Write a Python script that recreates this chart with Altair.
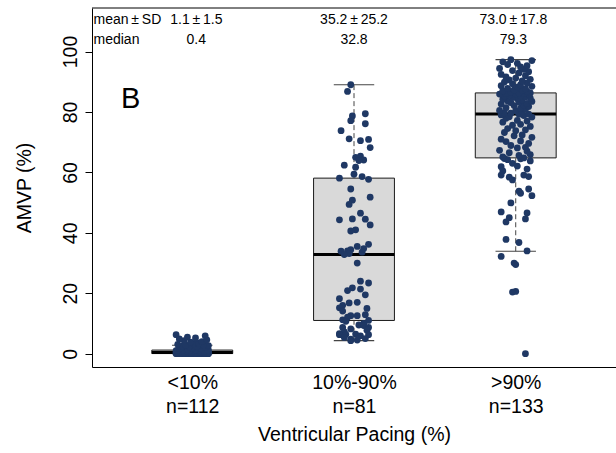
import altair as alt
import pandas as pd

# ---------------- data ----------------
categories = ["<10%", "10%-90%", ">90%"]
counts = [112, 81, 133]
positions = [1, 2, 3]
mean_sd_text = ["1.1\u2009\u00b1\u20091.5", "35.2\u2009\u00b1\u200925.2", "73.0\u2009\u00b1\u200917.8"]
median_text = ["0.4", "32.8", "79.3"]

box_q1 = [0.05, 11.0, 64.8]
box_median = [0.4, 32.8, 79.3]
box_q3 = [1.2, 58.1, 86.3]
whisker_low = [0.0, 4.3, 33.9]
whisker_high = [2.8, 89.0, 97.3]

low_values = [
    0.0, 0.0, 0.0, 0.0, 0.0, 0.0, 0.0, 0.0, 0.0, 0.0, 0.0,
    0.0, 0.0, 0.0, 0.0, 0.0, 0.0, 0.0, 0.0, 0.0, 0.0, 0.0,
    0.1, 0.1, 0.1, 0.1, 0.1, 0.1, 0.1,
    0.2, 0.2, 0.2, 0.2, 0.2, 0.2, 0.2, 0.2,
    0.3, 0.3, 0.3, 0.3, 0.3, 0.3, 0.3, 0.3, 0.3,
    0.4, 0.4, 0.4, 0.4, 0.4, 0.4, 0.4, 0.4, 0.4, 0.4,
    0.5, 0.5, 0.5, 0.6, 0.6, 0.6, 0.6, 0.7, 0.7, 0.7, 0.8, 0.8, 0.8, 0.9,
    0.9, 0.9, 1.0, 1.0, 1.0, 1.0, 1.1, 1.1, 1.1, 1.2, 1.2, 1.2, 1.2, 1.2,
    1.3, 1.4, 1.4, 1.5, 1.6, 1.7, 1.8, 1.9, 2.0, 2.1, 2.2, 2.4, 2.5, 2.7,
    2.8, 3.0, 3.1, 3.3, 3.5, 3.8, 4.0, 4.3, 4.6, 4.9, 5.2, 5.5, 5.9, 6.3,
]
low_jitter = [
    -0.08, 0.03, 0.09, -0.02, 0.05, -0.06, 0.01, 0.07, -0.09, 0.04, -0.04, 0.10, -0.01, 0.06,
    -0.07, 0.02, 0.08, -0.05, 0.00, -0.10, 0.05, 0.03, -0.03, 0.09, -0.06, 0.01, 0.07, -0.08,
    0.04, -0.02, 0.06, -0.09, 0.10, -0.04, 0.02, -0.07, 0.08, 0.00, -0.05, 0.03, -0.01, 0.05,
    -0.06, 0.09, -0.03, 0.07, -0.10, 0.01, 0.04, -0.08, 0.06, -0.02, 0.08, -0.04, 0.02, -0.07,
    0.10, -0.05, 0.03, -0.09, 0.05, -0.01, 0.07, -0.06, 0.00, 0.09, -0.03, 0.04, -0.08, 0.06,
    -0.02, 0.08, -0.07, 0.01, 0.05, -0.10, 0.03, -0.04, 0.07, -0.06, 0.10, -0.01, 0.04, -0.09,
    0.02, -0.05, 0.09, -0.03, 0.06, -0.08, 0.00, 0.05, -0.07, 0.08, -0.02, 0.03, -0.06, 0.10,
    -0.04, 0.07, -0.09, 0.01, 0.04, -0.01, 0.06, -0.05, 0.09, -0.08, 0.02, -0.03, 0.08, -0.10,
]

mid_values = [
    89.0, 86.8, 79.4, 78.7, 77.1, 76.1, 73.8, 71.1, 70.9, 70.5,
    68.2, 65.4, 65.0, 64.1, 63.9, 62.4, 61.7, 59.4, 58.6, 58.1,
    57.7, 54.5, 51.8, 50.8, 49.4, 46.5, 44.6, 44.5, 44.3, 42.6,
    41.0, 40.6, 36.2, 35.5, 34.8, 34.4, 34.0, 33.9, 33.6, 33.1,
    32.8, 30.0, 24.0, 23.4, 21.8, 21.4, 20.9, 19.5, 18.2, 17.0,
    16.8, 16.0, 15.2, 15.0, 14.1, 12.9, 12.6, 12.6, 12.1, 11.2,
    11.0, 10.7, 10.0, 9.5, 9.3, 8.7, 8.7, 8.2, 7.8, 7.2,
    6.6, 6.5, 6.4, 6.3, 6.3, 5.9, 5.4, 5.0, 4.8, 4.5,
    4.3,
]
mid_jitter = [
    -0.02, -0.04, 0.07, -0.01, -0.02, 0.07, -0.08, -0.03, 0.09, 0.04,
    0.10, 0.04, 0.01, 0.06, 0.03, -0.06, 0.01, 0.00, 0.05, -0.09,
    0.09, -0.02, 0.10, -0.01, -0.03, 0.04, -0.01, 0.07, -0.09, 0.10,
    0.01, -0.02, 0.09, 0.02, 0.06, -0.02, -0.04, -0.08, 0.05, -0.03,
    -0.06, 0.02, 0.04, 0.09, -0.01, 0.04, -0.04, 0.07, -0.09, 0.02,
    -0.03, -0.07, -0.09, 0.08, -0.07, 0.07, -0.02, 0.02, -0.04, -0.07,
    0.09, -0.05, 0.06, 0.03, 0.06, 0.09, -0.07, -0.02, 0.08, -0.06,
    -0.09, 0.01, -0.05, 0.09, -0.09, 0.04, -0.06, 0.07, -0.02, 0.02,
    -0.02,
]

high_values = [
    64.6, 64.5, 64.2, 63.8, 63.0, 62.1, 61.9, 61.1, 60.5, 59.1, 59.1,
    58.6, 58.4, 57.5, 54.5, 53.8, 53.1, 52.3, 49.9, 46.9, 46.6, 45.0,
    44.6, 43.6, 37.8, 36.8, 34.0, 32.2, 30.0, 29.5, 20.6, 20.4, 0.0,
    64.8, 65.1, 65.6, 65.9, 66.5, 67.0, 67.3, 68.1, 68.3, 68.9, 69.6,
    70.2, 70.4, 71.0, 71.6, 72.1, 72.4, 73.2, 73.8, 74.1, 74.5, 75.2,
    75.6, 75.9, 76.6, 77.0, 77.2, 77.9, 78.3, 78.4, 78.8, 79.0, 79.2,
    79.3,
    79.6, 79.7, 80.1, 80.4, 80.5, 81.0, 81.3, 81.4, 81.8, 82.1, 82.3,
    82.6, 82.8, 83.1, 83.3, 83.5, 83.6, 84.0, 84.2, 84.4, 84.6, 84.8,
    85.0, 85.2, 85.4, 85.5, 85.8, 85.9, 86.0, 86.1, 86.2, 86.3, 86.3,
    86.6, 86.8, 87.0, 87.2, 87.3, 87.7, 87.8, 88.2, 88.5, 88.7, 89.0,
    89.3, 89.6, 89.9, 90.3, 90.6, 90.8, 91.2, 91.6, 92.0, 92.4, 92.9,
    93.3, 93.7, 94.1, 94.4, 94.9, 95.3, 95.7, 96.1, 96.6, 97.0, 97.3,
]
high_jitter = [
    -0.07, 0.03, -0.05, 0.09, -0.02, 0.01, -0.09, 0.07, -0.08, -0.09, 0.05,
    0.08, -0.04, -0.02, 0.08, 0.02, 0.03, 0.10, -0.03, -0.09, 0.07, -0.04,
    0.06, -0.06, -0.06, 0.02, 0.07, -0.09, -0.01, 0.00, 0.00, -0.02, 0.06,
    0.05, -0.08, 0.02, 0.09, -0.04, 0.07, -0.10, 0.01, 0.06, -0.03, 0.08,
    -0.06, 0.03, -0.09, 0.10, -0.01, 0.04, -0.07, 0.00, 0.06, -0.05, 0.09,
    -0.02, 0.03, -0.08, 0.07, 0.01, -0.06, 0.10, -0.04, 0.05, -0.09, 0.02,
    0.08,
    -0.03, -0.07, 0.04, 0.00, -0.10, 0.06, 0.03, -0.06, 0.08, -0.01, 0.05,
    -0.09, 0.07, -0.03, 0.02, 0.10, -0.05, 0.04, -0.08, 0.01, 0.09, -0.02,
    0.06, -0.07, 0.03, -0.04, 0.08, -0.10, 0.00, 0.05, -0.06, 0.02, 0.09,
    -0.03, 0.07, -0.08, 0.04, -0.01, 0.06, -0.05, 0.01, 0.10, -0.09, 0.03,
    -0.02, 0.07, -0.07, 0.04, -0.04, 0.09, 0.00, -0.06, 0.06, -0.09, 0.02,
    0.08, -0.02, 0.05, -0.10, 0.03, 0.07, -0.05, 0.01, -0.08, 0.10, -0.03,
]

# ---------------- build tables ----------------
rows = []
for pos, vals, jit in zip(positions,
                          [low_values, mid_values, high_values],
                          [low_jitter, mid_jitter, high_jitter]):
    for v, j in zip(vals, jit):
        rows.append({"x": pos + j, "value": v})
points_df = pd.DataFrame(rows)

# annotation columns sit at (nearly) the group centres, as in the original
annot_x = [1.025, 2.0, 2.985]

box_df = pd.DataFrame({
    "pos": positions, "q1": box_q1, "median": box_median, "q3": box_q3,
    "wlo": whisker_low, "whi": whisker_high,
    "mean_sd": mean_sd_text, "med_txt": median_text, "ax": annot_x,
})

FONT = "Liberation Sans"
NAVY = "#1f3864"
W, H = 524, 359
SMALL = 14

x_scale = alt.Scale(domain=[0.38, 3.62], nice=False, zero=False)
y_scale = alt.Scale(domain=[-4.4, 114.4], nice=False, zero=False)

label_expr = " : ".join(
    f"datum.value == {p} ? ['{c}', 'n={n}']" for p, c, n in zip(positions, categories, counts)
) + " : ''"

x_axis = alt.Axis(
    values=positions, ticks=False, grid=False, domainColor="black", domainWidth=1,
    labelExpr=label_expr, labelFont=FONT, labelFontSize=19.5, labelColor="black",
    labelLineHeight=24, labelPadding=6, labelFlush=False, labelOverlap=False,
    title="Ventricular Pacing (%)", titleFont=FONT, titleFontSize=19.5,
    titleFontWeight="normal", titleColor="black", titlePadding=10,
)
y_axis = alt.Axis(
    values=[0, 20, 40, 60, 80, 100], tickSize=7, tickColor="black", grid=False,
    domainColor="black", domainWidth=1,
    labelAngle=270, labelAlign="center", labelBaseline="bottom",
    labelFont=FONT, labelFontSize=19.5, labelColor="black", labelPadding=5,
    labelFlush=False,
    title="AMVP (%)", titleFont=FONT, titleFontSize=19.5, titleFontWeight="normal",
    titleColor="black", titlePadding=26,
)


def X(field):
    return alt.X(field, type="quantitative", scale=x_scale, axis=x_axis)


def Y(field):
    return alt.Y(field, type="quantitative", scale=y_scale, axis=y_axis)


base = alt.Chart(box_df).transform_calculate(
    left="datum.pos - 0.25", right="datum.pos + 0.25",
    cl="datum.pos - 0.125", cr="datum.pos + 0.125",
)

boxes = base.mark_rect(fill="#d9d9d9", stroke="#1a1a1a", strokeWidth=1).encode(
    x=X("left"), x2="right:Q", y=Y("q1"), y2="q3:Q")
whisk_up = base.mark_rule(color="#444444", strokeDash=[5, 3], strokeWidth=1).encode(
    x=X("pos"), y=Y("q3"), y2="whi:Q")
whisk_dn = base.mark_rule(color="#444444", strokeDash=[5, 3], strokeWidth=1).encode(
    x=X("pos"), y=Y("wlo"), y2="q1:Q")
cap_hi = base.mark_rule(color="#444444", strokeWidth=1.2).encode(
    x=X("cl"), x2="cr:Q", y=Y("whi"))
cap_lo = base.mark_rule(color="#444444", strokeWidth=1.2).encode(
    x=X("cl"), x2="cr:Q", y=Y("wlo"))
med_line = base.mark_rule(color="black", strokeWidth=3).encode(
    x=X("left"), x2="right:Q", y=Y("median"))

pts = alt.Chart(points_df).mark_circle(size=46, color=NAVY, opacity=1).encode(
    x=X("x"), y=Y("value"))

row_mean = alt.Chart(box_df).mark_text(font=FONT, fontSize=SMALL, color="black",
                                       align="center", baseline="alphabetic").encode(
    x=X("ax"), y=alt.value(16), text="mean_sd:N")
row_med = alt.Chart(box_df).mark_text(font=FONT, fontSize=SMALL, color="black",
                                      align="center", baseline="alphabetic").encode(
    x=X("ax"), y=alt.value(36), text="med_txt:N")

row_labels_df = pd.DataFrame({"t": ["mean\u2009\u00b1\u2009SD", "median"], "row": [0, 1]})
row_lab1 = alt.Chart(row_labels_df).transform_filter("datum.row == 0").mark_text(
    font=FONT, fontSize=SMALL, color="black", align="left", baseline="alphabetic").encode(
    x=alt.value(1.5), y=alt.value(16), text="t:N")
row_lab2 = alt.Chart(row_labels_df).transform_filter("datum.row == 1").mark_text(
    font=FONT, fontSize=SMALL, color="black", align="left", baseline="alphabetic").encode(
    x=alt.value(1.5), y=alt.value(36), text="t:N")

panel_df = pd.DataFrame({"t": ["B"]})
panel = alt.Chart(panel_df).mark_text(font=FONT, fontSize=29, color="black",
                                      align="left", baseline="alphabetic").encode(
    x=alt.value(29), y=alt.value(100), text="t:N")

top_line = alt.Chart(panel_df).mark_rule(color="black", strokeWidth=1).encode(
    x=alt.value(0), x2=alt.value(W), y=alt.value(0))

chart = alt.layer(
    boxes, whisk_up, whisk_dn, cap_hi, cap_lo, med_line, pts,
    row_mean, row_med, row_lab1, row_lab2, panel, top_line,
).properties(
    width=W, height=H,
    padding={"left": 92, "top": 8, "right": 0, "bottom": 86},
    autosize=alt.AutoSizeParams(type="none"),
    background="white",
).configure_view(stroke=None)

chart.save("out.html", embed_options={"renderer": "svg", "actions": False})
